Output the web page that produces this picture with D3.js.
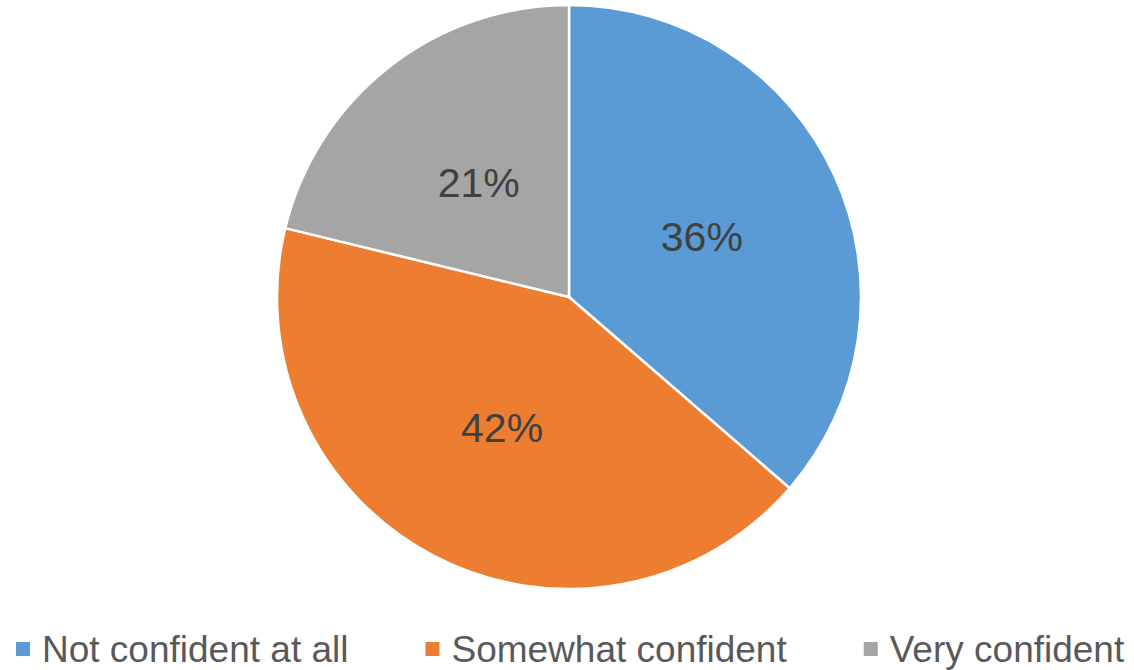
<!DOCTYPE html>
<html>
<head>
<meta charset="utf-8">
<script src="https://cdn.jsdelivr.net/npm/d3@7"></script>
<style>
  html, body { margin: 0; padding: 0; background: #ffffff; }
  svg { display: block; }
</style>
</head>
<body>
<svg id="chart" width="1134" height="670"></svg>
<script>
// Survey answers and their shares (percent)
const categories = ["Not confident at all", "Somewhat confident", "Very confident"];
const values = [36, 42, 21];
const colors = ["#5B9BD5", "#ED7D31", "#A5A5A5"];

const width = 1134, height = 670;
const cx = 569, cy = 297, radius = 292;

const svg = d3.select("#chart");
const g = svg.append("g").attr("transform", `translate(${cx},${cy})`);

const pie = d3.pie().sort(null).value(d => d.value);
const data = pie(categories.map((c, i) => ({ name: c, value: values[i], color: colors[i] })));

const arc = d3.arc().innerRadius(0).outerRadius(radius);
const labelArc = d3.arc().innerRadius(radius * 0.5).outerRadius(radius * 0.5);

g.selectAll("path.slice")
  .data(data)
  .join("path")
  .attr("class", "slice")
  .attr("d", arc)
  .attr("fill", d => d.data.color)
  .attr("stroke", "#ffffff")
  .attr("stroke-width", 2.5)
  .attr("stroke-linejoin", "round");

g.selectAll("text.pct")
  .data(data)
  .join("text")
  .attr("class", "pct")
  .attr("transform", d => `translate(${labelArc.centroid(d)})`)
  .attr("text-anchor", "middle")
  .attr("dy", "0.36em")
  .attr("font-family", "'Liberation Sans', Arial, sans-serif")
  .attr("font-size", 41)
  .attr("fill", "#404040")
  .text(d => d.data.value + "%");

// Legend laid out left to right along the bottom
const legend = svg.append("g");
const items = legend.selectAll("g.item")
  .data(data)
  .join("g")
  .attr("class", "item");

items.append("rect")
  .attr("width", 14)
  .attr("height", 14)
  .attr("y", -7)
  .attr("fill", d => d.data.color);

items.append("text")
  .attr("x", 26)
  .attr("dy", "0.36em")
  .attr("font-family", "'Liberation Sans', Arial, sans-serif")
  .attr("font-size", 37)
  .attr("fill", "#595959")
  .text(d => d.data.name);

const itemGap = 77;
let x = 16;
items.each(function () {
  const node = d3.select(this);
  const w = 26 + node.select("text").node().getComputedTextLength();
  node.attr("transform", `translate(${x},649)`);
  x += w + itemGap;
});
</script>
</body>
</html>
